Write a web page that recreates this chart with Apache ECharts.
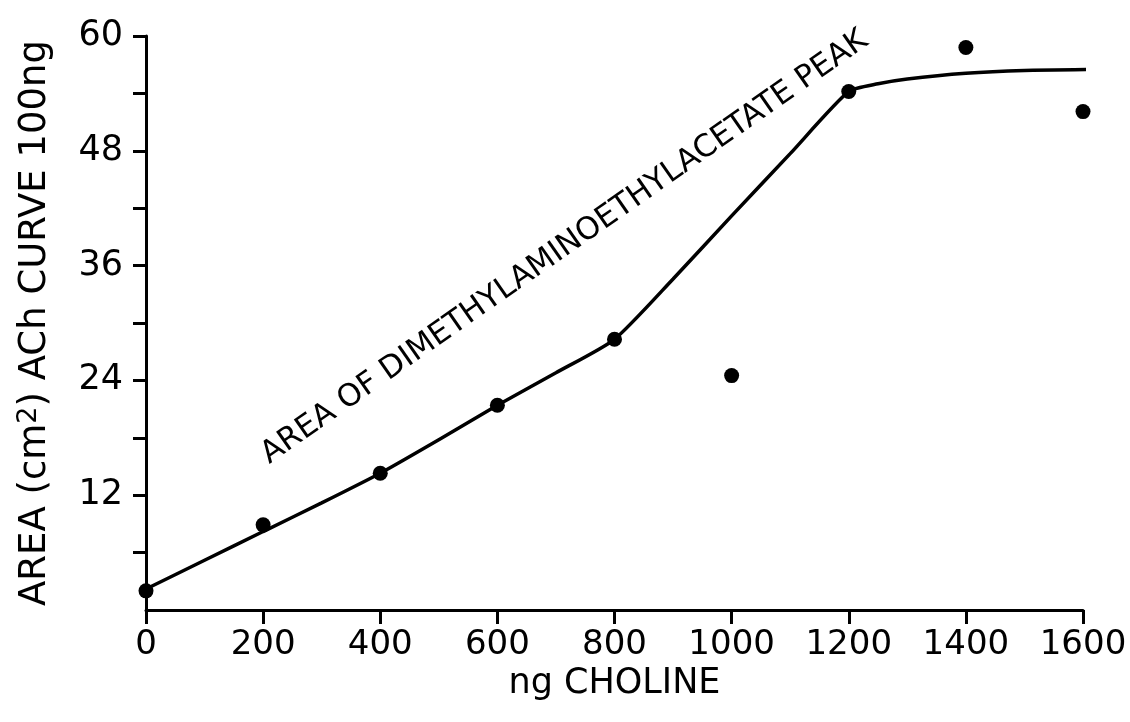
<!DOCTYPE html>
<html>
<head>
<meta charset="utf-8">
<script src="https://cdn.jsdelivr.net/npm/echarts@6/dist/echarts.min.js"></script>
<style>html,body{margin:0;padding:0;background:#fff}#c{width:1130px;height:722px}</style>
</head>
<body>
<div id="c"></div>
<script>
// Measured points (ng choline, area cm^2)
const pointX = [0, 200, 400, 600, 800, 1000, 1200, 1400, 1600];
const pointY = [2.0, 8.9, 14.3, 21.4, 28.3, 24.5, 54.2, 58.8, 52.1];
// Drawn curve
const curveX = [0, 100, 200, 300, 400, 500, 600, 700, 800, 900, 1000, 1100, 1200, 1250, 1300, 1400, 1500, 1610];
const curveY = [2.2, 5.2, 8.2, 11.2, 14.3, 17.8, 21.4, 24.8, 28.3, 34.6, 41.2, 47.7, 54.2, 55.0, 55.5, 56.1, 56.4, 56.5];
// Axis ticks
const xTicks = [0, 200, 400, 600, 800, 1000, 1200, 1400, 1600];
const yTicks = [6, 12, 18, 24, 30, 36, 42, 48, 54, 60];
const yLabels = [12, 24, 36, 48, 60];
// Annotation
const noteText = 'AREA OF DIMETHYLAMINOETHYLACETATE PEAK';
const noteAt = [715, 37.9];

const FONT = 'DejaVu Sans';
const chart = echarts.init(document.getElementById('c'));
chart.setOption({
  backgroundColor: '#fff',
  animation: false,
  textStyle: { fontFamily: FONT, color: '#000' },
  grid: { left: 146, right: 47, top: 36, bottom: 112 },
  xAxis: {
    type: 'value', min: 0, max: 1600, interval: 200,
    name: 'ng CHOLINE', nameLocation: 'middle', nameGap: 54,
    nameTextStyle: { fontFamily: FONT, fontSize: 35, color: '#000' },
    axisLine: { show: true, lineStyle: { color: '#000', width: 3 } },
    axisTick: { show: true, inside: false, length: 14, lineStyle: { color: '#000', width: 3 }, customValues: xTicks },
    axisLabel: { fontFamily: FONT, fontSize: 34, color: '#000', margin: 18, customValues: xTicks, formatter: v => String(v) },
    splitLine: { show: false }
  },
  yAxis: {
    type: 'value', min: 0, max: 60, interval: 6,
    name: 'AREA (cm{sup|2}) ACh CURVE 100ng', nameLocation: 'middle', nameGap: 90, nameRotate: 90,
    nameTextStyle: {
      fontFamily: FONT, fontSize: 37, color: '#000',
      rich: { sup: { fontFamily: FONT, fontSize: 27, color: '#000', verticalAlign: 'top', padding: [0, 0, 14, 0] } }
    },
    axisLine: { show: true, onZero: false, lineStyle: { color: '#000', width: 3 } },
    axisTick: { show: true, length: 13, lineStyle: { color: '#000', width: 3 }, customValues: yTicks },
    axisLabel: { fontFamily: FONT, fontSize: 35, color: '#000', margin: 23, customValues: yLabels, formatter: v => String(v) },
    splitLine: { show: false }
  },
  series: [
    {
      type: 'line', data: curveX.map((x, i) => [x, curveY[i]]),
      showSymbol: false, smooth: 0.2, lineStyle: { color: '#000', width: 3.5 }, z: 2,
      markPoint: {
        symbol: 'circle', symbolSize: 0,
        data: [{ coord: noteAt, value: noteText }],
        label: { show: true, position: 'inside', formatter: noteText, rotate: 35, fontFamily: FONT, fontSize: 31, color: '#000' }
      }
    },
    {
      type: 'scatter', data: pointX.map((x, i) => [x, pointY[i]]),
      symbol: 'circle', symbolSize: 15, itemStyle: { color: '#000', opacity: 1 }, z: 3
    }
  ]
});
</script>
</body>
</html>
